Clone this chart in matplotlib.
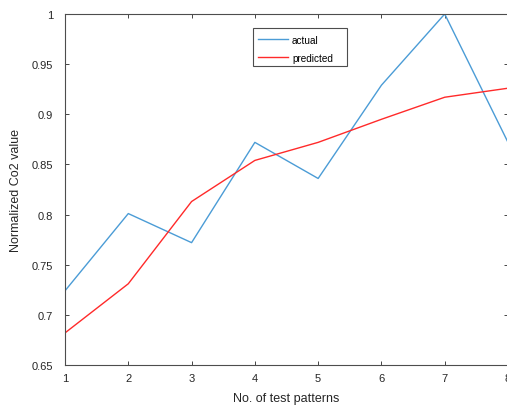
import matplotlib.pyplot as plt
from matplotlib.patches import Rectangle

plt.rcParams['font.family'] = ['Liberation Sans', 'DejaVu Sans']

patterns = [1, 2, 3, 4, 5, 6, 7, 8]
actual = [0.724, 0.801, 0.772, 0.872, 0.836, 0.929, 1.0, 0.872]
predicted = [0.682, 0.731, 0.813, 0.854, 0.872, 0.895, 0.917, 0.926]
yticks = [0.65, 0.7, 0.75, 0.8, 0.85, 0.9, 0.95, 1]
ytick_labels = ['0.65', '0.7', '0.75', '0.8', '0.85', '0.9', '0.95', '1']

fig = plt.figure(figsize=(5.07, 4.10), dpi=100)
ax = fig.add_axes([65 / 507, 44 / 410, 443 / 507, 351 / 410])

ax.plot(patterns, actual, color='#4b9cd6', lw=1.0, label='actual')
ax.plot(patterns, predicted, color='#ff2a2a', lw=1.0, label='predicted')

ax.set_xlim(1, 8)
ax.set_ylim(0.65, 1)
ax.set_xticks(patterns)
ax.set_yticks(yticks)
ax.set_yticklabels(ytick_labels)
ax.tick_params(direction='in', length=3, width=0.6, colors='#262626',
               labelsize=8, top=True, right=True)
ax.tick_params(axis='y', pad=8.5)
ax.tick_params(axis='x', pad=6)
for s in ax.spines.values():
    s.set_color('#4d4d4d')
    s.set_linewidth(0.8)

ax.set_xlabel('No. of test patterns', fontsize=9, color='#262626', labelpad=6)
ax.set_ylabel('Normalized Co2 value', fontsize=9, color='#262626', labelpad=7)

# legend box is wider than the entries, so draw the frame separately
box = Rectangle((188 / 443, 1 - 52 / 351), 94 / 443, 38 / 351,
                transform=ax.transAxes, facecolor='white', edgecolor='#4d4d4d',
                lw=0.8, zorder=4)
ax.add_patch(box)
leg = ax.legend(loc='upper left', bbox_to_anchor=(188 / 443, 1 - 15.5 / 351),
                borderaxespad=0, fontsize=7.2, frameon=False, handlelength=3.0,
                handletextpad=0.4, borderpad=0.5, labelspacing=0.8)
leg.set_zorder(5)

fig.savefig('out.png', dpi=100)
